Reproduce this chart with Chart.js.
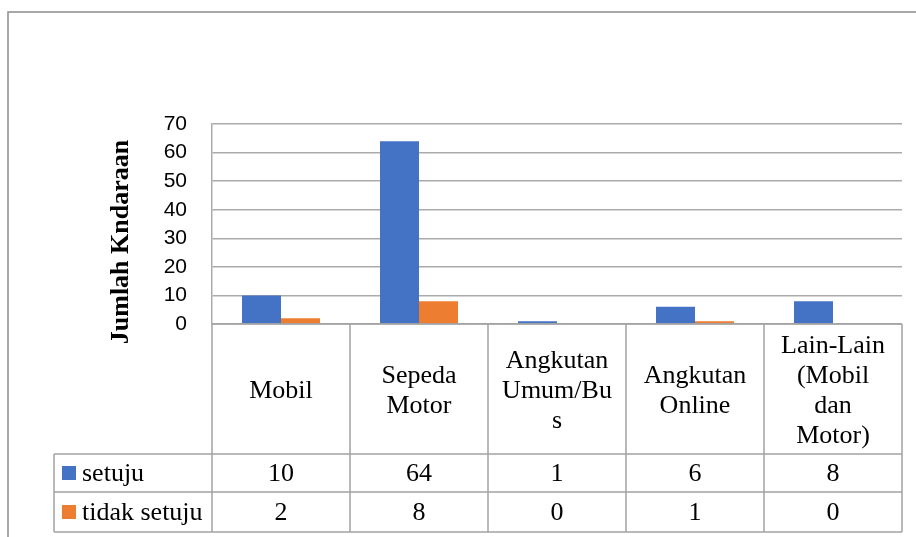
<!DOCTYPE html>
<html>
<head>
<meta charset="utf-8">
<script src="https://cdn.jsdelivr.net/npm/chart.js@4"></script>
<style>
  html, body { margin: 0; padding: 0; background: #ffffff; }
  #wrap { width: 916px; height: 537px; position: relative; }
</style>
</head>
<body>
<div id="wrap"><canvas id="c" width="916" height="537"></canvas></div>
<script>
// ---- data ----
const categories = [
  ["Mobil"],
  ["Sepeda", "Motor"],
  ["Angkutan", "Umum/Bu", "s"],
  ["Angkutan", "Online"],
  ["Lain-Lain", "(Mobil", "dan", "Motor)"]
];
const setuju = [10, 64, 1, 6, 8];
const tidakSetuju = [2, 8, 0, 1, 0];
const seriesNames = ["setuju", "tidak setuju"];
const yTitle = "Jumlah Kndaraan";
const yTicks = [0, 10, 20, 30, 40, 50, 60, 70];

const BLUE = "#4472C4";
const ORANGE = "#ED7D31";
const GRID = "#ababab";
const TABLE = "#a3a3a3";
const SERIF = "'Liberation Serif', 'Times New Roman', serif";
const SANS = "'Liberation Sans', Arial, sans-serif";

const tablePlugin = {
  id: 'dataTable',
  afterDraw(chart) {
    const ctx = chart.ctx;
    const x = chart.scales.x;
    const area = chart.chartArea;
    const n = categories.length;
    const colW = (area.right - area.left) / n;
    const top = area.bottom;         // table top = x axis
    const headerBottom = 454;
    const row1Bottom = 492;
    const row2Bottom = 532;
    const legendLeft = 54;

    ctx.save();
    // outer frame
    ctx.strokeStyle = "#8c8c8c";
    ctx.lineWidth = 1.5;
    ctx.beginPath();
    ctx.moveTo(8, 537);
    ctx.lineTo(8, 12);
    ctx.lineTo(916, 12);
    ctx.stroke();

    // table lines
    ctx.strokeStyle = TABLE;
    ctx.lineWidth = 1.5;
    ctx.beginPath();
    ctx.moveTo(area.left, top); ctx.lineTo(area.right, top);
    [headerBottom, row1Bottom, row2Bottom].forEach(yy => {
      ctx.moveTo(legendLeft, yy); ctx.lineTo(area.right, yy);
    });
    for (let i = 0; i <= n; i++) {
      const xx = area.left + i * colW;
      ctx.moveTo(xx, top); ctx.lineTo(xx, row2Bottom);
    }
    ctx.moveTo(legendLeft, headerBottom); ctx.lineTo(legendLeft, row2Bottom);
    ctx.stroke();

    // header text
    ctx.fillStyle = "#000";
    ctx.font = "26px " + SERIF;
    ctx.textAlign = "center";
    ctx.textBaseline = "middle";
    const lh = 30;
    const hc = 390;
    categories.forEach((lines, i) => {
      const cx = x.getPixelForValue(i);
      const y0 = hc - (lines.length - 1) * lh / 2;
      lines.forEach((t, j) => ctx.fillText(t, cx, y0 + j * lh + 1));
    });

    // value rows
    const rows = [setuju, tidakSetuju];
    const rowTops = [headerBottom, row1Bottom];
    const rowBots = [row1Bottom, row2Bottom];
    const colors = [BLUE, ORANGE];
    rows.forEach((vals, r) => {
      const cy = (rowTops[r] + rowBots[r]) / 2;
      vals.forEach((v, i) => {
        ctx.textAlign = "center";
        ctx.fillText(String(v), x.getPixelForValue(i), cy + 1);
      });
      ctx.fillStyle = colors[r];
      ctx.fillRect(62, cy - 7, 14, 14);
      ctx.fillStyle = "#000";
      ctx.textAlign = "left";
      ctx.fillText(seriesNames[r], 82, cy + 1);
    });

    // y title
    ctx.save();
    ctx.translate(121, 242);
    ctx.rotate(-Math.PI / 2);
    ctx.font = "bold 26px " + SERIF;
    ctx.textAlign = "center";
    ctx.textBaseline = "middle";
    ctx.fillText(yTitle, 0, 0);
    ctx.restore();

    ctx.restore();
  }
};

new Chart(document.getElementById('c'), {
  type: 'bar',
  data: {
    labels: categories,
    datasets: [
      { label: seriesNames[0], data: setuju, backgroundColor: BLUE, borderWidth: 0,
        categoryPercentage: 0.565, barPercentage: 1.0 },
      { label: seriesNames[1], data: tidakSetuju, backgroundColor: ORANGE, borderWidth: 0,
        categoryPercentage: 0.565, barPercentage: 1.0 }
    ]
  },
  options: {
    responsive: false,
    animation: false,
    devicePixelRatio: 1,
    layout: { padding: { left: 0, top: 124, right: 14, bottom: 213 } },
    plugins: { legend: { display: false }, tooltip: { enabled: false }, title: { display: false } },
    scales: {
      x: { display: false, grid: { display: false } },
      y: {
        min: 0, max: 70,
        afterFit(scale) { scale.width = 212; },
        afterBuildTicks(scale) { scale.ticks = yTicks.map(v => ({ value: v })); },
        grid: { color: GRID, lineWidth: 1.5, drawTicks: false },
        border: { display: true, color: GRID, width: 1.5 },
        ticks: {
          padding: 25,
          color: "#000",
          font: { family: SANS, size: 21 }
        }
      }
    }
  },
  plugins: [tablePlugin]
});
</script>
</body>
</html>
